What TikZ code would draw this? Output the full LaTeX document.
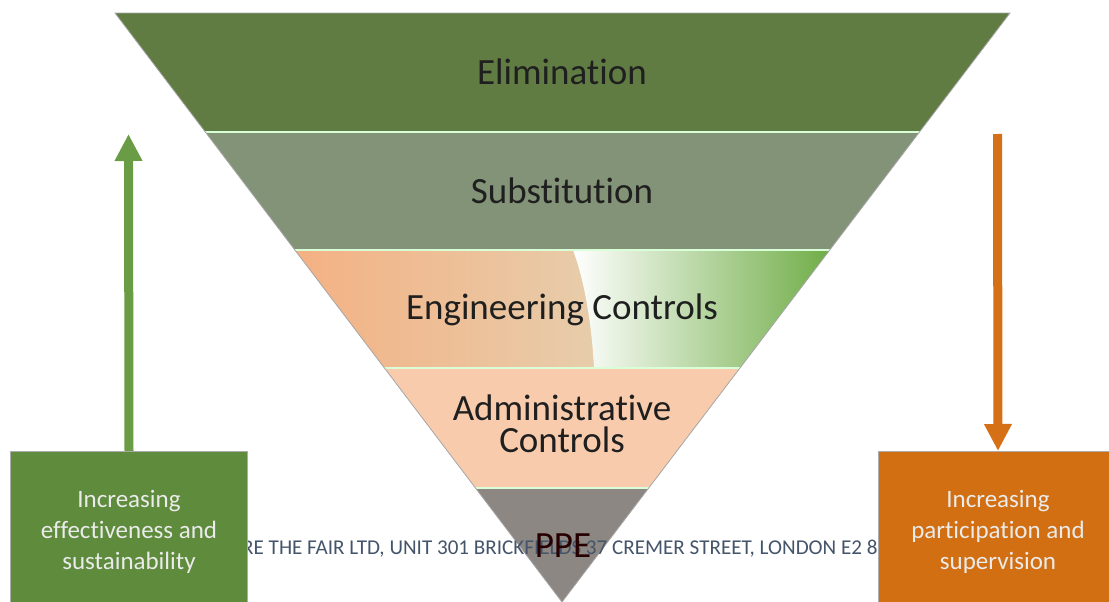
\documentclass[tikz,border=0pt]{standalone}
\usepackage{fontspec}
\setmainfont{Carlito}[Ligatures={NoCommon,NoContextual}]
\usepackage{tikz}
\usetikzlibrary{arrows.meta}

\definecolor{elimgreen}{RGB}{96,124,67}
\definecolor{substgreen}{RGB}{131,147,120}
\definecolor{engpeach}{RGB}{244,177,131}
\definecolor{engpale}{RGB}{221,226,202}
\definecolor{enggreen}{RGB}{112,173,71}
\definecolor{adminpeach}{RGB}{248,203,173}
\definecolor{ppegray}{RGB}{140,135,130}
\definecolor{boxgreen}{RGB}{94,139,60}
\definecolor{boxorange}{RGB}{210,111,18}
\definecolor{arrowgreen}{RGB}{106,155,69}
\definecolor{arroworange}{RGB}{214,112,23}
\definecolor{slate}{RGB}{68,84,106}

\begin{document}
\begin{tikzpicture}[x=1pt,y=-1pt,
	level/.style={text=black!88,align=center,inner sep=0pt,font=\fontsize{37}{32}\selectfont},
	sidebox/.style={draw=gray!65,line width=1pt,minimum width=237pt,minimum height=160pt,
		text=white!92!black,align=center,font=\fontsize{25}{31}\selectfont,anchor=north west},
	flow/.style={line width=9pt,-{Triangle[width=26pt,length=27pt]}}]
				\useasboundingbox (0,0) rectangle (1109,602);
				%% the inverted triangle, filled band by band
				\begin{scope}
					\clip (115,13) -- (1010,13) -- (562,602) -- cycle;
					\foreach \ytop/\ybot/\col in {13/132/elimgreen,132/250/substgreen,368/488/adminpeach,488/602/ppegray}{
						\fill[\col] (100,\ytop) rectangle (1020,\ybot);
						}
					%% engineering band is shaded in two parts
					\shade[left color=engpeach,right color=engpale] (295,250) rectangle (830,368);
					\shade[left color=white,right color=enggreen] (573,250) .. controls (586,285) and (592,330) .. (594,368) -- (830,368) -- (830,250) -- cycle;
					\foreach \y in {132,250,368,488}{
						\draw[white!85!green,line width=1.5pt] (100,\y) -- (1020,\y);
						}
				\end{scope}
				\draw[gray!70,line width=.8pt] (115,13) -- (1010,13) -- (562,602) -- cycle;
				%% band labels
				\node[level] (elim) at (562,72){Elimination};
				\node[level] (subst) at (562,191){Substitution};
				\node[level] (eng) at (562,310){Engineering Controls};
				\node[level] (admin) at (562,424){Administrative\\Controls};
				%% address line, partly under the boxes
				\node[text=slate,anchor=west,inner sep=0pt,font=\fontsize{21.1}{25}\selectfont] (addr) at (242,549){RE THE FAIR LTD, UNIT 301 BRICKFIELDS 37 CREMER STREET, LONDON E2 8};
				\node[level,text=black!85!red] (ppe) at (563,546){PPE};
				%% side boxes and their arrows
				\node[sidebox,fill=boxgreen] (effbox) at (10,451){Increasing\\effectiveness and\\sustainability};
				\node[sidebox,fill=boxorange,minimum width=239pt] (partbox) at (878,451){Increasing\\participation and\\supervision};
				\coordinate (efftip) at (128.5,134);
				\coordinate (parttop) at (997.5,134);
				\draw[flow,arrowgreen] (effbox.north) -- (efftip);
				\draw[flow,arroworange] (parttop) -- (partbox.north);
				\end{tikzpicture}
\end{document}
